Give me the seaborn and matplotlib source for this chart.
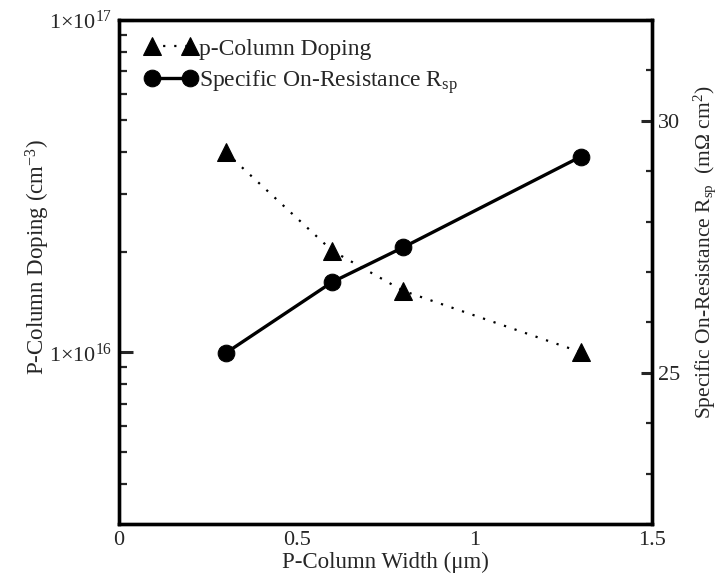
import matplotlib
matplotlib.use("Agg")
import matplotlib.pyplot as plt
import seaborn as sns
import pandas as pd
import numpy as np
from matplotlib.ticker import FixedLocator, MultipleLocator, LogLocator, NullFormatter, FixedFormatter

width_um = [0.3, 0.6, 0.8, 1.3]
doping = [4.0e16, 2.02e16, 1.53e16, 1.0e16]
rsp = [25.39, 26.80, 27.49, 29.29]

sns.set_theme(style="white")
plt.rcParams['font.family'] = ['Liberation Serif', 'DejaVu Serif']
plt.rcParams['mathtext.fontset'] = 'custom'
plt.rcParams['mathtext.rm'] = 'Liberation Serif'
plt.rcParams['mathtext.it'] = 'Liberation Serif:italic'

df1 = pd.DataFrame({"w": width_um, "d": doping})
df2 = pd.DataFrame({"w": width_um, "r": rsp})

W, H = 722, 574
L, R, T, B = 119, 652, 20, 524
fig = plt.figure(figsize=(W/100, H/100), dpi=100)
ax = fig.add_axes([L/W, 1-B/H, (R-L)/W, (B-T)/H])
ax2 = ax.twinx()

sns.lineplot(data=df1, x="w", y="d", ax=ax, color="black", linestyle=(0, (1, 4)),
             marker="^", markersize=13, markeredgecolor="black", linewidth=1.6,
             label="p-Column Doping", legend=False)
sns.lineplot(data=df2, x="w", y="r", ax=ax2, color="black", linestyle="-",
             marker="o", markersize=12, markeredgecolor="black", linewidth=2.4,
             label="Specific On-Resistance R$_{\\mathrm{sp}}$", legend=False)

ax.set_yscale("log")
ax.set_ylim(3.04e15, 1e17)
ax.set_xlim(0, 1.5)
ax2.set_ylim(22, 32)

fs = 16
ax.set_xticks([0, 0.5, 1, 1.5])
ax.set_xticklabels(["0", "0.5", "1", "1.5"], fontsize=fs)
ax.xaxis.set_minor_locator(MultipleLocator(0.1))
ax.yaxis.set_major_locator(FixedLocator([1e16, 1e17]))
ax.yaxis.set_major_formatter(FixedFormatter(["1×10$^{16}$", "1×10$^{17}$"]))
ax.yaxis.set_minor_locator(LogLocator(base=10, subs=np.arange(2, 10)))
ax.yaxis.set_minor_formatter(NullFormatter())
for t in ax.get_yticklabels():
    t.set_fontsize(fs)

ax2.yaxis.set_major_locator(FixedLocator([25, 30]))
ax2.set_yticklabels(["25", "30"], fontsize=fs)
ax2.yaxis.set_minor_locator(MultipleLocator(1))

for a in (ax, ax2):
    for s in a.spines.values():
        s.set_linewidth(2.4)
        s.set_color("black")
ax.tick_params(axis="y", which="major", direction="in", length=10, width=2.2, pad=5)
ax.tick_params(axis="y", which="minor", direction="in", length=5.5, width=1.6)
ax.tick_params(axis="x", which="major", direction="in", length=7, width=1.6, pad=5)
ax.tick_params(axis="x", which="minor", direction="in", length=6, width=1.6)
ax2.tick_params(axis="y", which="major", direction="in", length=8, width=2.2, pad=4)
ax2.tick_params(axis="y", which="minor", direction="in", length=4, width=1.6)
ax.tick_params(axis="x", which="both", top=False)
ax.tick_params(axis="y", which="both", right=False)

ax.set_xlabel("P-Column Width (μm)", fontsize=16.5)
ax.xaxis.set_label_coords(0.5, -(562 - B) / (B - T), transform=ax.transAxes)
ax.xaxis.label.set_va("center")
ax.set_ylabel("P-Column Doping (cm$^{-3}$)", fontsize=16.5)
ax.yaxis.set_label_coords((38 - L) / (R - L), 0.53, transform=ax.transAxes)
ax.yaxis.label.set_va("center")
ax2.set_ylabel("Specific On-Resistance R$_{\\mathrm{sp}}$  (mΩ cm$^{2}$)", fontsize=15.5)
ax2.yaxis.set_label_coords((705 - L) / (R - L), 0.54, transform=ax2.transAxes)
ax2.yaxis.label.set_va("center")

h1, l1 = ax.get_legend_handles_labels()
h2, l2 = ax2.get_legend_handles_labels()
ax.legend(h1 + h2, l1 + l2, loc="upper left", frameon=False, fontsize=17,
          bbox_to_anchor=((145 - L) / (R - L), (B - 38) / (B - T)),
          handlelength=2.2, handletextpad=0.08, borderaxespad=0,
          labelspacing=0.37, borderpad=0, numpoints=2)

fig.savefig("out.png", dpi=100)
